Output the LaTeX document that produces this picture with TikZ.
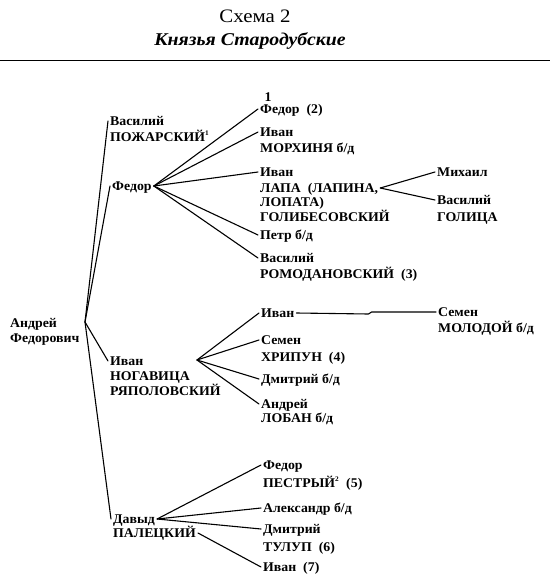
\documentclass[tikz,border=0pt]{standalone}
\usepackage{fontspec}
\setmainfont{Liberation Serif}
\newfontfamily\treefont[FakeStretch=1.04]{Liberation Serif}
\newfontfamily\titlefont[FakeStretch=1.1]{Liberation Serif}
\begin{document}
\begin{tikzpicture}[x=1pt,y=-1pt,
  person/.style={anchor=west, inner xsep=2pt, inner ysep=0pt,
    text height=10pt, text depth=2pt,
    font=\treefont\bfseries\fontsize{13.3}{15}\selectfont},
  link/.style={line width=1.1pt, line cap=round, line join=round}]
\useasboundingbox (0,0) rectangle (550,579);
% title
\node[font=\titlefont\fontsize{19}{22}\selectfont] (t1) at (255,16) {Схема 2};
\node[font=\titlefont\bfseries\itshape\fontsize{18}{21}\selectfont] (t2) at (250,41) {Князья Стародубские};
\coordinate (rl) at (0,60);
\coordinate (rr) at (550,60);
\draw[line width=0.9pt] (rl) -- (rr);
\node[person, anchor=center] (one) at (268,97) {1};
% root
\node[person] (andrei) at (8,323) {Андрей};
\node[person] (andrei2) at (8,338) {Федорович};
\coordinate (af) at (85,322);
% first generation
\node[person] (vasP) at (108,121) {Василий};
\node[person] (vasP2) at (108,137) {ПОЖАРСКИЙ\textsuperscript{\fontsize{7}{8}\selectfont 1}};
\node[person] (fedor) at (110,186) {Федор};
\node[person] (ivanN) at (108,361) {Иван};
\node[person] (ivanN2) at (108,376) {НОГАВИЦА};
\node[person] (ivanN3) at (108,391) {РЯПОЛОВСКИЙ};
\node[person] (davyd) at (111,519) {Давыд};
\node[person] (davyd2) at (111,533) {ПАЛЕЦКИЙ};
\draw[link] (af) -- (vasP.west);
\draw[link] (af) -- (fedor.west);
\draw[link] (af) -- (ivanN.west);
\draw[link] (af) -- (davyd.west);
% Fedor's sons
\node[person] (f1) at (258,109) {Федор~~(2)};
\node[person] (f2) at (258,132) {Иван};
\node[person] (f2b) at (258,148) {МОРХИНЯ б/д};
\node[person] (f3) at (258,172) {Иван};
\node[person] (f3b) at (258,188) {ЛАПА~~(ЛАПИНА,};
\node[person] (f3c) at (258,202) {ЛОПАТА)};
\node[person] (f3d) at (258,217) {ГОЛИБЕСОВСКИЙ};
\node[person] (f4) at (258,235) {Петр б/д};
\node[person] (f5) at (258,258) {Василий};
\node[person] (f5b) at (258,274) {РОМОДАНОВСКИЙ~~(3)};
\foreach \s in {f1,f2,f3,f4,f5} \draw[link] (fedor.east) -- (\s.west);
% Ivan Lapa's sons
\node[person] (l1) at (435,172) {Михаил};
\node[person] (l2) at (435,200) {Василий};
\node[person] (l2b) at (435,217) {ГОЛИЦА};
\draw[link] (f3b.east) -- (l1.west);
\draw[link] (f3b.east) -- (l2.west);
% Ivan Nogavitsa's sons
\coordinate (nv) at (197,360);
\node[person] (n1) at (259,313) {Иван};
\node[person] (n2) at (259,340) {Семен};
\node[person] (n2b) at (259,357) {ХРИПУН~~(4)};
\node[person] (n3) at (259,379) {Дмитрий б/д};
\node[person] (n4) at (259,404) {Андрей};
\node[person] (n4b) at (259,418) {ЛОБАН б/д};
\foreach \s in {n1,n2,n3,n4} \draw[link] (nv) -- (\s.west);
\node[person] (m1) at (436,312) {Семен};
\node[person] (m1b) at (436,328) {МОЛОДОЙ б/д};
\draw[link] (n1.east) -- ++(72,1) -- ++(3,-2) -- (m1.west);
% Davyd's sons
\node[person] (d1) at (261,465) {Федор};
\node[person] (d1b) at (261,483) {ПЕСТРЫЙ\textsuperscript{\fontsize{7}{8}\selectfont 2}~~(5)};
\node[person] (d2) at (261,508) {Александр б/д};
\node[person] (d3) at (261,529) {Дмитрий};
\node[person] (d3b) at (261,547) {ТУЛУП~~(6)};
\node[person] (d4) at (261,567) {Иван~~(7)};
\foreach \s in {d1,d2,d3} \draw[link] (davyd.east) -- (\s.west);
\draw[link] (davyd2.east) -- (d4.west);
\end{tikzpicture}
\end{document}
